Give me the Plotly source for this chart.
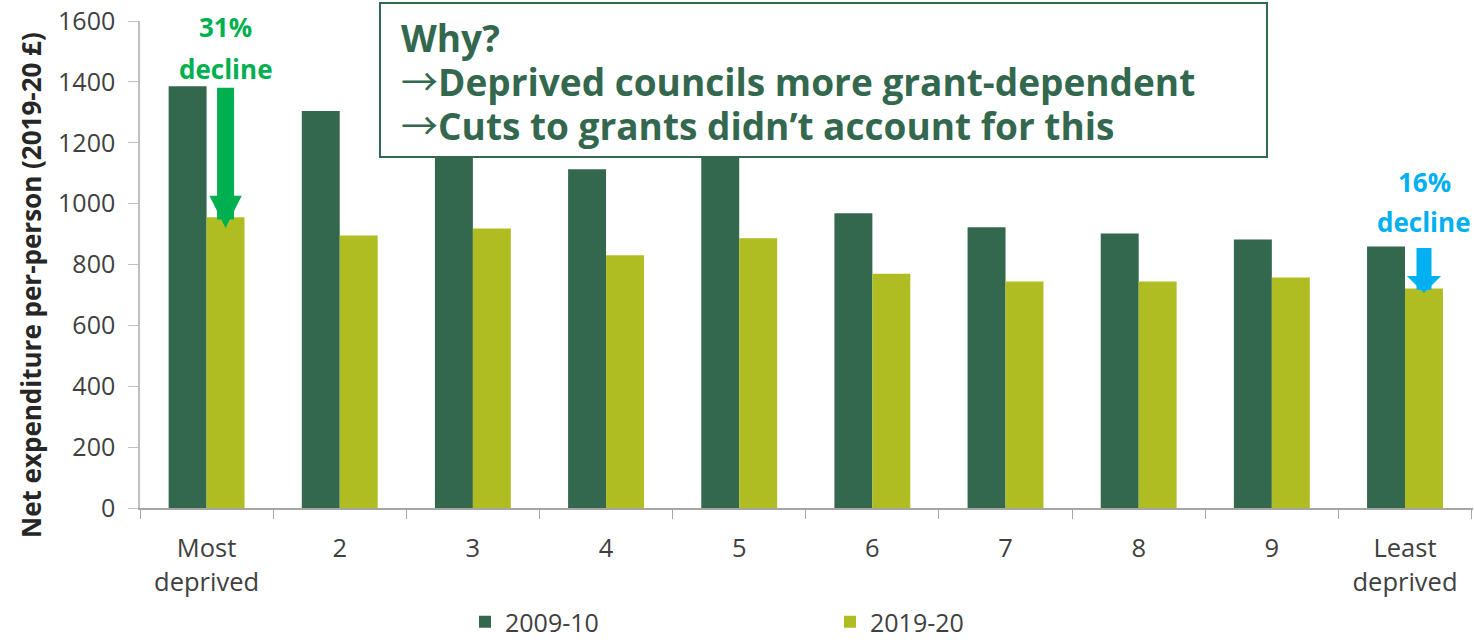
import plotly.graph_objects as go

# Deprivation deciles of English councils
categories = ["Most<br>deprived", "2", "3", "4", "5", "6", "7", "8", "9", "Least<br>deprived"]
spend_2009 = [1386, 1304, 1210, 1113, 1175, 968, 922, 902, 882, 859]
spend_2019 = [955, 895, 918, 830, 886, 770, 744, 744, 757, 721]
series_names = ["2009-10", "2019-20"]
y_ticks = [0, 200, 400, 600, 800, 1000, 1200, 1400, 1600]

DARK = "#33684F"
OLIVE = "#AFBD22"
GREEN = "#00B050"
BLUE = "#00B0F0"
TEXT = "#404040"
FONT = "Open Sans"

# plot-area geometry in pixels (used for paper-coordinate placement of overlays)
L, R, T, B = 140, 1473, 21, 508
W, H = R - L, B - T


def px(xp):
    return (xp - L) / W


def py(yp):
    return (B - yp) / H


fig = go.Figure()
fig.add_bar(x=categories, y=spend_2009, name=series_names[0], marker_color=DARK,
            marker_line_width=0)
fig.add_bar(x=categories, y=spend_2019, name=series_names[1], marker_color=OLIVE,
            marker_line_width=0)

shapes = [
    dict(type="rect", xref="paper", yref="paper",
         x0=px(380), x1=px(1267), y0=py(157), y1=py(3),
         line=dict(color=DARK, width=2), fillcolor="white", layer="above"),
]

annotations = []
ARROW = ('<span style="font-family:\'Noto Sans CJK SC\';font-weight:normal">'
         '\u2192</span>')
box_lines = ["Why?", ARROW + "Deprived councils more grant-dependent",
             ARROW + "Cuts to grants didn\u2019t account for this"]
for txt, yc in zip(box_lines, [37, 80, 124]):
    annotations.append(dict(text=f"<b>{txt}</b>", xref="paper", yref="paper",
                            x=px(399), y=py(yc), xanchor="left", yanchor="middle",
                            showarrow=False,
                            font=dict(family=FONT, size=37, color=DARK)))

# axis title placed by hand so it can sit lower than the axis midpoint
annotations.append(dict(text="<b>Net expenditure per-person (2019-20 \u00a3)</b>",
                        xref="paper", yref="paper", x=px(31), y=py(285),
                        xanchor="center", yanchor="middle",
                        textangle=-90, showarrow=False,
                        font=dict(family=FONT, size=26, color="#262626")))

# decline callouts with downward arrows over the 2019-20 bars
first, last = 0, len(categories) - 1
pct_first = round((1 - spend_2019[first] / spend_2009[first]) * 100)
pct_last = round((1 - spend_2019[last] / spend_2009[last]) * 100)

callouts = [
    dict(idx=first, pct=pct_first, color=GREEN, y1=27, y2=69,
         tip=spend_2019[first] - 35, width=17, head=2, size=0.38),
    dict(idx=last, pct=pct_last, color=BLUE, y1=182, y2=222,
         tip=spend_2019[last] - 15, width=15, head=1, size=0.38),
]
for c in callouts:
    cat = categories[c["idx"]]
    annotations.append(dict(text="", x=cat, y=c["tip"], xref="x", yref="y",
                            xshift=19, ax=0, ay=spend_2009[c["idx"]], axref="pixel",
                            ayref="y", showarrow=True, arrowhead=c["head"],
                            arrowsize=c["size"], arrowwidth=c["width"],
                            arrowcolor=c["color"]))
    annotations.append(dict(text=f"<b>{c['pct']}%</b>", x=cat, xshift=19,
                            xref="x", yref="paper", y=py(c["y1"]),
                            yanchor="middle", showarrow=False,
                            font=dict(family=FONT, size=26, color=c["color"])))
    annotations.append(dict(text="<b>decline</b>", x=cat, xshift=19,
                            xref="x", yref="paper", y=py(c["y2"]),
                            yanchor="middle", showarrow=False,
                            font=dict(family=FONT, size=26, color=c["color"])))

fig.update_layout(
    width=1474, height=640,
    margin=dict(l=L, r=1474 - R, t=T, b=640 - B, pad=0, autoexpand=False),
    paper_bgcolor="white", plot_bgcolor="white",
    barmode="group", bargap=0.43, bargroupgap=0,
    font=dict(family=FONT, size=25, color=TEXT),
    shapes=shapes, annotations=annotations,
    legend=dict(orientation="h", x=px(465), xanchor="left", y=py(622),
                yanchor="middle", entrywidth=320, entrywidthmode="pixels",
                font=dict(size=25, color=TEXT), bgcolor="rgba(0,0,0,0)"),
)
fig.update_xaxes(
    type="category", showline=True, linecolor="#A6A6A6", linewidth=1.5,
    ticks="outside", tickson="boundaries", ticklen=9, tickcolor="#A6A6A6",
    ticklabelstandoff=17,
    tickfont=dict(size=25.5, color=TEXT), showgrid=False, zeroline=False,
)
fig.update_yaxes(
    range=[0, 1600], tickvals=y_ticks, showline=True, linecolor="#BFBFBF",
    linewidth=1.5, ticks="outside", ticklen=10, tickcolor="#BFBFBF",
    ticklabelstandoff=8,
    tickfont=dict(size=25, color=TEXT), showgrid=False, zeroline=False,
)

fig.write_html("out.html")
